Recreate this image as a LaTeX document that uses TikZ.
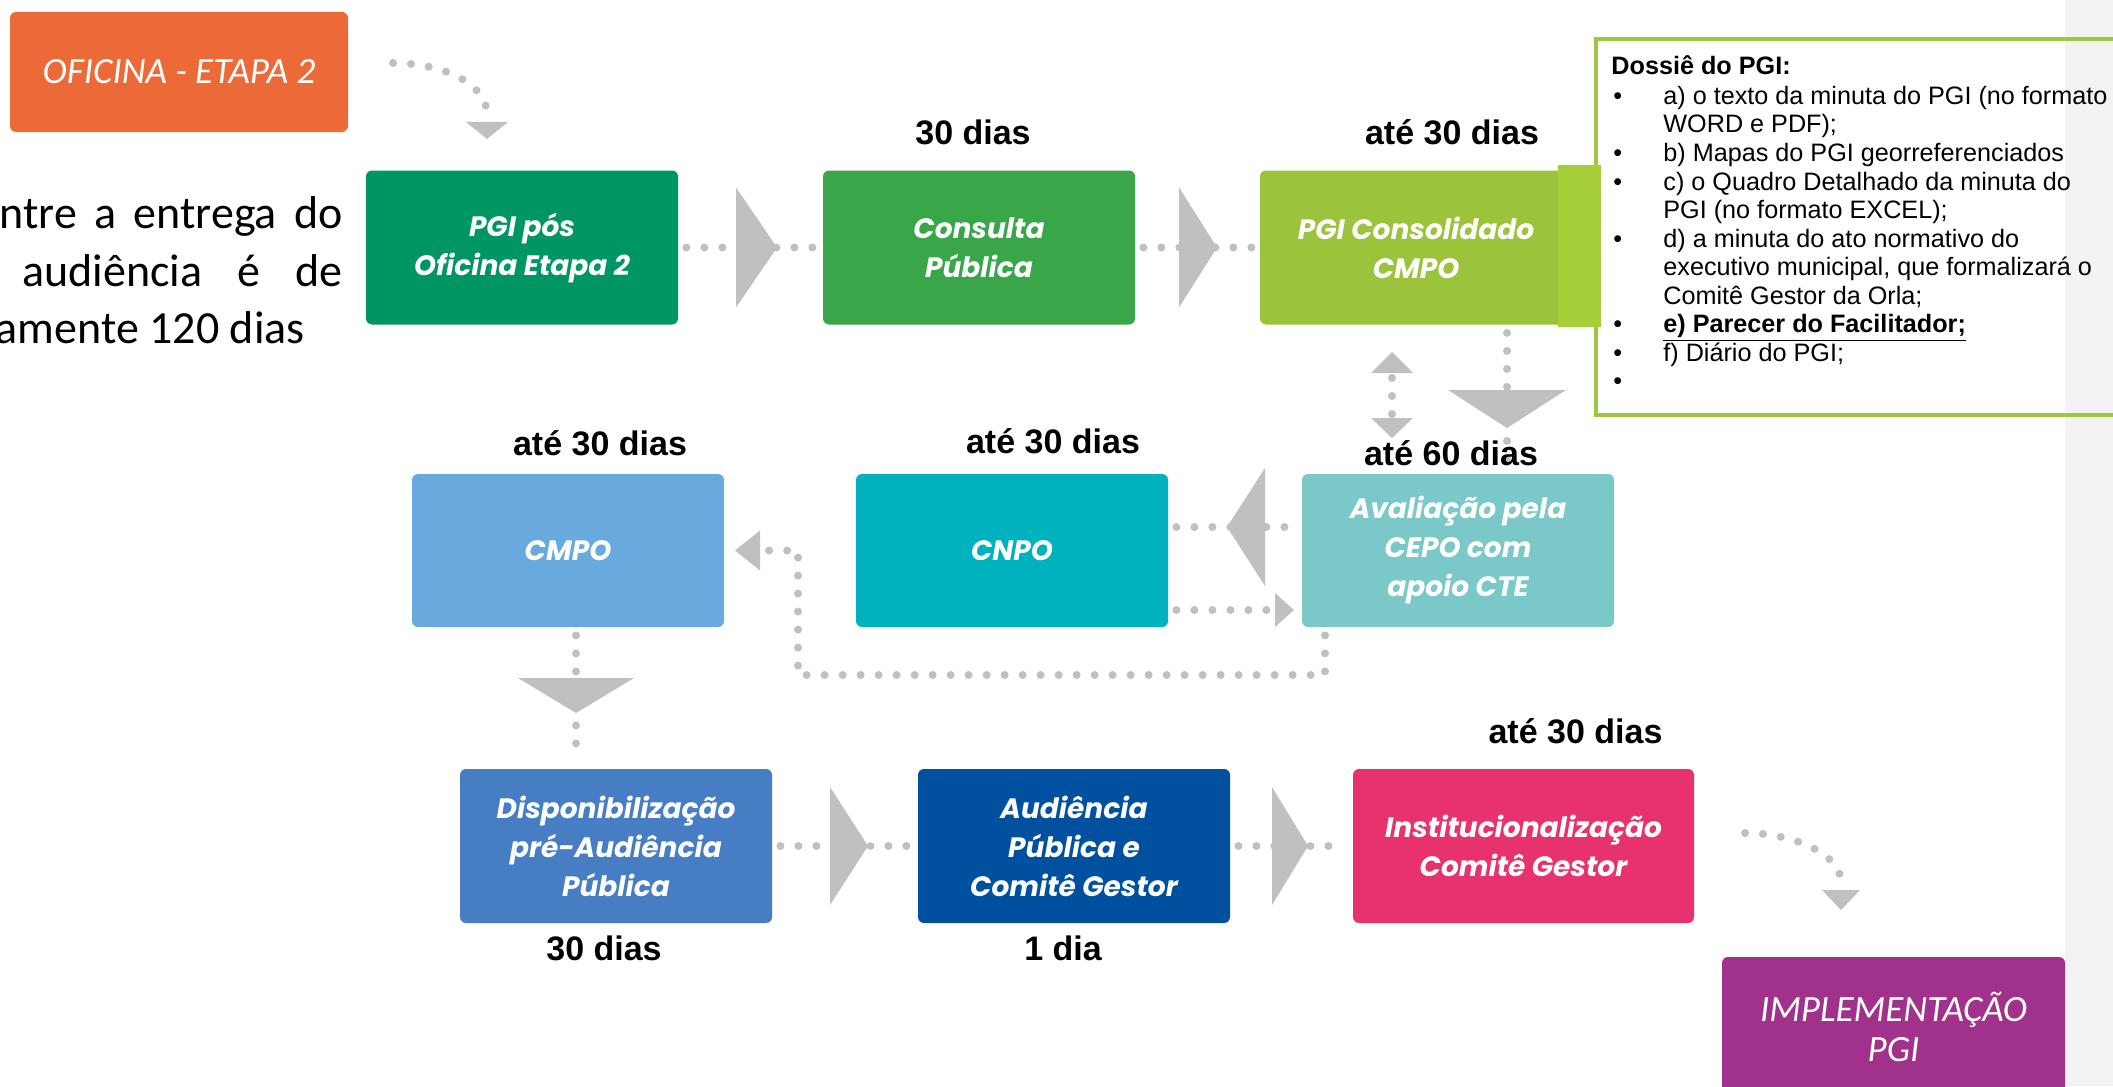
\documentclass[tikz,border=0pt]{standalone}
\usepackage{fontspec}
\setmainfont{Liberation Sans}
\newfontfamily\boxfont{Poppins}
\newfontfamily\calfont{Carlito}
\usetikzlibrary{positioning}

\definecolor{cOfic}{RGB}{236,106,55}
\definecolor{cPgi}{RGB}{0,150,100}
\definecolor{cCons}{RGB}{58,166,74}
\definecolor{cConsol}{RGB}{155,195,60}
\definecolor{cTab}{RGB}{166,206,57}
\definecolor{cCmpo}{RGB}{105,170,222}
\definecolor{cCnpo}{RGB}{0,178,190}
\definecolor{cAval}{RGB}{122,200,200}
\definecolor{cDisp}{RGB}{70,125,195}
\definecolor{cAud}{RGB}{0,80,160}
\definecolor{cInst}{RGB}{232,50,110}
\definecolor{cImpl}{RGB}{160,50,140}
\definecolor{cArr}{RGB}{192,192,192}
\definecolor{cDoss}{RGB}{155,200,60}
\definecolor{cStrip}{RGB}{243,243,243}

\begin{document}
\begin{tikzpicture}[
    x=0.5pt, y=-0.5pt,
    box/.style = {
        rectangle, rounded corners=3pt, text=white, align=center,
        minimum width=156pt, minimum height=77pt, inner sep=0pt,
        font=\boxfont\bfseries\itshape\fontsize{14}{19.5}\selectfont
    },
    thinbox/.style = {
        box, font=\calfont\itshape\fontsize{18.5}{20}\selectfont
    },
    dias/.style = {inner sep=0pt, font=\bfseries\fontsize{17}{20}\selectfont},
    lefttxt/.style = {inner sep=0pt, font=\calfont\fontsize{23}{27}\selectfont},
    dtxt/.style = {inner sep=0pt, anchor=base west, font=\fontsize{12.6}{14}\selectfont},
    dots/.style = {
        line width=4pt, line cap=round, dash pattern=on 0pt off 9pt,
        color=cArr, shorten <=4pt, shorten >=4pt
    },
    head/.style = {fill=cArr}
]

%% Page and side strip
\fill[white] (0,0) rectangle (2113,1086);
\useasboundingbox (0,0) rectangle (2113,1086);
\fill[cStrip] (2065,0) rectangle (2113,1086);

%% Steps
\node[thinbox, fill=cOfic, minimum width=169pt, minimum height=60pt] (oficina) at (179,72) {OFICINA - ETAPA 2};
\node[box, fill=cPgi]    (pgipos)   at (522,247.5)  {PGI pós\\Oficina Etapa 2};
\node[box, fill=cCons]   (consulta) at (979,247.5)  {Consulta\\Pública};
\node[box, fill=cConsol] (consol)   at (1416,247.5) {PGI Consolidado\\CMPO};

\node[box, fill=cCmpo, minimum height=76.5pt] (cmpo) at (568,550.5)  {CMPO};
\node[box, fill=cCnpo, minimum height=76.5pt] (cnpo) at (1012,550.5) {CNPO};
\node[box, fill=cAval, minimum height=76.5pt] (aval) at (1458,550.5) {Avaliação pela\\CEPO com\\apoio CTE};

\node[box, fill=cDisp] (disp) at (616,846)  {Disponibilização\\pré-Audiência\\Pública};
\node[box, fill=cAud]  (aud)  at (1074,846) {Audiência\\Pública e\\Comitê Gestor};
\node[box, fill=cInst, minimum width=170.5pt] (inst) at (1523.5,846) {Institucionalização\\Comitê Gestor};
\node[thinbox, fill=cImpl, minimum width=171.5pt, minimum height=70pt] (impl) at (1893.5,1027) {IMPLEMENTAÇÃO\\PGI};

%% Left note (cut at the page edge)
\node[lefttxt, anchor=base east] (note1) at (343,228) {\hbox to 171.5pt{ntre\hfill a\hfill entrega\hfill do}};
\node[lefttxt, anchor=base east] (note2) at (343,286) {\hbox to 160pt{audiência\hfill é\hfill de}};
\node[lefttxt, anchor=base east] (note3) at (305,343) {amente 120 dias};

%% Dossier box
\node[draw=cDoss, line width=2pt, anchor=north west, inner sep=0pt,
      minimum width=268pt, minimum height=188pt] (dossie) at (1594,37) {};
\fill[cTab] (1558,165) rectangle (1601,327);
\node[dtxt, font=\bfseries\fontsize{12.6}{14}\selectfont] (dtit) at (1611,75) {Dossiê do PGI:};
\foreach \y/\t [count=\i] in {
    104.5/{a) o texto da minuta do PGI (no formato},
    133/{WORD e PDF);},
    161.5/{b) Mapas do PGI georreferenciados},
    190/{c) o Quadro Detalhado da minuta do},
    218.5/{PGI (no formato EXCEL);},
    247/{d) a minuta do ato normativo do},
    275.5/{executivo municipal, que formalizará o},
    304/{Comitê Gestor da Orla;},
    332.5/{\textbf{\underline{e) Parecer do Facilitador;}}},
    361/{f) Diário do PGI;}}
    \node[dtxt] (dl\i) at (1663,\y) {\t};
\foreach \y [count=\i] in {104.5,161.5,190,247,332.5,361,389.5}
    \node[dtxt] (db\i) at (1613,\y) {•};

%% Connectors, row 1
\coordinate (o1) at (385,63);
\coordinate (tipA) at (487,139);
\draw[dots] (o1) .. controls (445,63) and (487,85) .. (487,122);
\fill[head] (tipA) -- ++(-21,-17) -- ++(42,0) -- cycle;

\draw[dots] (pgipos) -- (consulta);
\draw[dots] (consulta) -- (consol);
\coordinate (ch1) at (736,247.5);
\coordinate (ch2) at (1179,247.5);
\fill[head] (ch1) ++(0,-60) -- ++(41,60) -- ++(-41,60) -- cycle;
\fill[head] (ch2) ++(0,-60) -- ++(38,60) -- ++(-38,60) -- cycle;

%% Down to the evaluation, and the two-way arrow
\coordinate (tipE) at (1507,428);
\draw[dots] (consol.south -| tipE) -- (aval.north -| tipE);
\fill[head] (tipE) -- ++(-59,-38) -- ++(118,0) -- cycle;
\coordinate (up1) at (1392,352);
\coordinate (dn1) at (1392,438);
\draw[dots] (up1) -- (dn1);
\fill[head] (up1) -- ++(-21,21) -- ++(42,0) -- cycle;
\fill[head] (dn1) -- ++(-21,-20) -- ++(42,0) -- cycle;

%% Row 2
\draw[dots] ([yshift=11.75pt]cnpo.east) -- ([yshift=11.75pt]aval.west);
\coordinate (ch3) at (1265,527);
\fill[head] (ch3) ++(0,-59) -- ++(-38,59) -- ++(38,59) -- cycle;
\coordinate (tipB) at (1294,610);
\draw[dots] ([yshift=-29.75pt]cnpo.east) -- (tipB);
\fill[head] (tipB) -- ++(-19,-17) -- ++(0,34) -- cycle;

\coordinate (lp1) at (1325,675);
\coordinate (lp2) at (798,675);
\coordinate (tipC) at (735,550.5);
\draw[dots] (aval.south -| lp1) -- (lp1) -- (lp2) |- (tipC);
\fill[head] (tipC) -- ++(25,-20) -- ++(0,40) -- cycle;

\coordinate (tipD) at (576,713);
\draw[dots] (cmpo.south -| tipD) -- (disp.north -| tipD);
\fill[head] (tipD) -- ++(-58,-35) -- ++(116,0) -- cycle;

%% Row 3
\draw[dots] (disp) -- (aud);
\draw[dots] (aud) -- (inst);
\coordinate (ch4) at (830,846);
\coordinate (ch5) at (1272,846);
\fill[head] (ch4) ++(0,-59) -- ++(38,59) -- ++(-38,59) -- cycle;
\fill[head] (ch5) ++(0,-59) -- ++(36,59) -- ++(-36,59) -- cycle;

\coordinate (i1) at (1737,833);
\coordinate (tipF) at (1841,910);
\draw[dots] (i1) .. controls (1795,833) and (1841,855) .. (1841,890);
\fill[head] (tipF) -- ++(-19,-20) -- ++(38,0) -- cycle;

%% Durations
\node[dias, above=12.5pt of consulta, xshift=-3pt] (d1) {30 dias};
\node[dias, above=12.5pt of consol, xshift=18pt]   (d2) {até 30 dias};
\node[dias, above=8.5pt of cmpo, xshift=16pt]      (d3) {até 30 dias};
\node[dias, above=9.5pt of cnpo, xshift=20.5pt]    (d4) {até 30 dias};
\node[dias, above=3.5pt of aval, xshift=-3.5pt]    (d5) {até 60 dias};
\node[dias, above=12pt of inst, xshift=26pt]       (d8) {até 30 dias};
\node[dias, below=5.8pt of disp, xshift=-6pt]      (d6) {30 dias};
\node[dias, below=5.8pt of aud, xshift=-5.5pt]     (d7) {1 dia};

\end{tikzpicture}
\end{document}
